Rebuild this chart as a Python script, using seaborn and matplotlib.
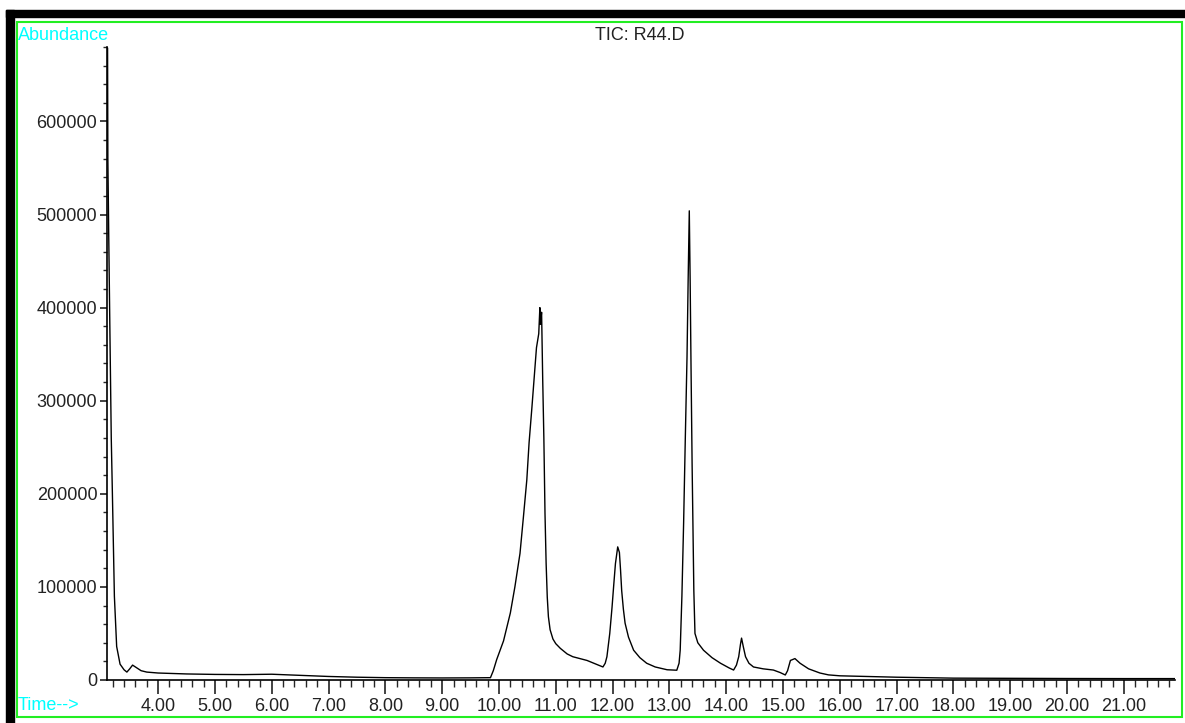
import matplotlib
matplotlib.use('Agg')
import matplotlib.pyplot as plt
from matplotlib.patches import Rectangle
from matplotlib.ticker import MultipleLocator, FixedLocator, FuncFormatter
import seaborn as sns

# retention time (min) and abundance
time_min = [3.110, 3.115, 3.130, 3.150, 3.175, 3.195, 3.230, 3.270, 3.330, 3.400,
            3.450, 3.500, 3.550, 3.600, 3.700, 3.800, 4.00, 4.50, 5.00, 5.50,
            6.00, 6.50, 7.00, 7.50, 8.00, 8.50, 9.00, 9.50, 9.85, 9.90,
            9.96, 10.08, 10.20, 10.28, 10.37, 10.43, 10.49, 10.53, 10.58, 10.62,
            10.66, 10.70, 10.72, 10.73, 10.75, 10.77, 10.79, 10.81, 10.83, 10.85,
            10.87, 10.90, 10.95, 11.00, 11.08, 11.20, 11.30, 11.55, 11.75, 11.83,
            11.87, 11.90, 11.95, 11.99, 12.02, 12.05, 12.09, 12.12, 12.14, 12.16,
            12.19, 12.22, 12.28, 12.37, 12.48, 12.60, 12.75, 12.96, 13.13, 13.17,
            13.19, 13.22, 13.25, 13.28, 13.31, 13.33, 13.35, 13.365, 13.38, 13.40,
            13.43, 13.45, 13.50, 13.60, 13.75, 13.90, 14.05, 14.13, 14.18, 14.22,
            14.25, 14.27, 14.30, 14.34, 14.40, 14.48, 14.65, 14.83, 14.95, 15.04,
            15.08, 15.13, 15.21, 15.30, 15.45, 15.65, 15.80, 16.00, 17.00, 18.00,
            19.00, 20.00, 21.00, 21.90]
abundance = [679000, 560000, 480000, 380000, 260000, 200000, 90000, 36000, 17000, 11000,
             8500, 12000, 16000, 14000, 10000, 8500, 7500, 6500, 6000, 5800,
             6200, 5000, 3800, 3000, 2500, 2300, 2200, 2300, 2500, 10000,
             22000, 42000, 72000, 100000, 136000, 175000, 215000, 255000, 293000, 325000,
             357000, 372000, 400000, 382000, 395000, 322000, 260000, 179000, 125000, 89000,
             68000, 54000, 44000, 39000, 34000, 28000, 25000, 21000, 16000, 14000,
             18000, 25000, 50000, 78000, 102000, 125000, 143000, 137000, 118000, 96000,
             76000, 61000, 46000, 32000, 24000, 18000, 14000, 11000, 10500, 18000,
             32000, 90000, 168000, 260000, 347000, 430000, 504000, 430000, 340000, 230000,
             96000, 50000, 40000, 32000, 24000, 18000, 13000, 10700, 16000, 25000,
             38000, 45000, 36000, 25000, 18000, 14000, 12000, 10700, 8000, 5400,
             10000, 21000, 23000, 18000, 12000, 7500, 5500, 4500, 3000, 2000,
             1800, 1600, 1500, 1500]

x_major = [4, 5, 6, 7, 8, 9, 10, 11, 12, 13, 14, 15, 16, 17, 18, 19, 20, 21]

sns.set_style('ticks')
plt.rcParams['font.family'] = ['Liberation Sans', 'DejaVu Sans']

fig = plt.figure(figsize=(11.85, 7.23), dpi=100)
W, H = 1185, 723

# window decorations: black bars and green frame
fig.patches.append(Rectangle((6 / W, 0), 8 / W, 1 - 10 / H, transform=fig.transFigure,
                             color='black', zorder=0))
fig.patches.append(Rectangle((6 / W, 1 - 17 / H), 1 - 6 / W, 7 / H, transform=fig.transFigure,
                             color='black', zorder=0))
fig.patches.append(Rectangle((17 / W, 1 - 717 / H), 1165 / W, 695 / H, transform=fig.transFigure,
                             fill=False, edgecolor='#22ee22', linewidth=1.5, zorder=1))

ax = fig.add_axes([107 / W, 1 - 680 / H, (1175 - 107) / W, (680 - 47) / H])
ax.patch.set_alpha(0)
sns.lineplot(x=time_min, y=abundance, color='black', linewidth=1.0, ax=ax)

ax.set_xlim(3.10, 21.90)
ax.set_ylim(0, 680000)
ax.xaxis.set_major_locator(FixedLocator(x_major))
ax.xaxis.set_major_formatter(FuncFormatter(lambda v, p: f'{v:.2f}'))
ax.xaxis.set_minor_locator(MultipleLocator(0.2))
ax.yaxis.set_major_locator(MultipleLocator(100000))
ax.yaxis.set_major_formatter(FuncFormatter(lambda v, p: f'{int(v)}'))
ax.yaxis.set_minor_locator(MultipleLocator(20000))

for s in ['top', 'right']:
    ax.spines[s].set_visible(False)
for s in ['left', 'bottom']:
    ax.spines[s].set_linewidth(1.2)
    ax.spines[s].set_color('black')

ax.tick_params(axis='x', which='major', length=10, width=1.2, pad=3, labelsize=13, colors='#222222')
ax.tick_params(axis='x', which='minor', length=5, width=1.0)
ax.tick_params(axis='y', which='major', length=5, width=1.2, pad=2, labelsize=13, colors='#222222')
ax.tick_params(axis='y', which='minor', length=3, width=1.0)
ax.set_xlabel('')
ax.set_ylabel('')

fig.text(18 / W, 1 - 35 / H, 'Abundance', color='cyan', fontsize=13, va='center', ha='left')
fig.text(18 / W, 1 - 706 / H, 'Time-->', color='cyan', fontsize=13, va='center', ha='left')
fig.text(640 / W, 1 - 36 / H, 'TIC: R44.D', color='#222222', fontsize=13, va='center', ha='center')

fig.savefig('out.png', dpi=100)
